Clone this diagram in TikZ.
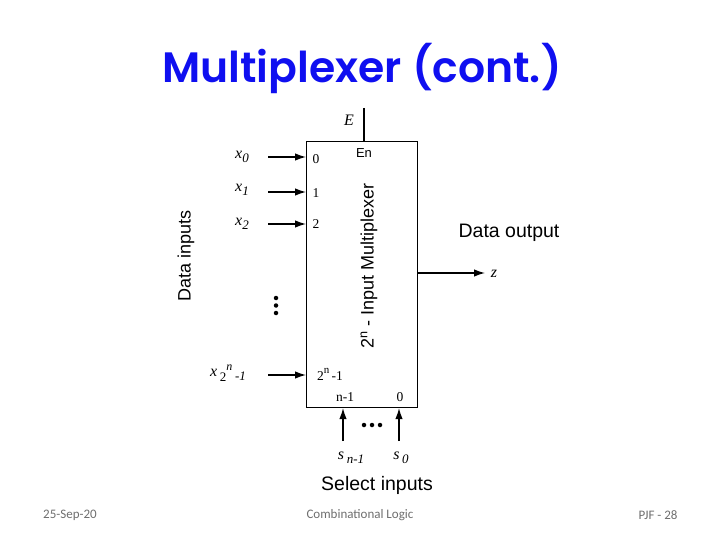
\documentclass[tikz,border=0pt]{standalone}
\usepackage{fontspec}
\setmainfont{Liberation Serif}
\setsansfont{Liberation Sans}
\newfontfamily\titlefont{Poppins SemiBold}
\newfontfamily\footfont{Carlito}
\usetikzlibrary{arrows.meta}
\definecolor{titleblue}{RGB}{15,15,240}
\definecolor{footgray}{RGB}{110,110,110}
\tikzset{
  wire/.style={line width=1.1pt},
  inarrow/.style={line width=1.3pt,-{Latex[length=11pt,width=7.5pt]}},
  lbl/.style={font=\fontsize{16}{16}\selectfont\itshape, inner sep=0pt},
  pin/.style={font=\fontsize{13.5}{13.5}\selectfont, inner sep=0pt},
  big/.style={font=\sffamily\fontsize{18}{18}\selectfont, inner sep=0pt},
  foot/.style={font=\footfont\fontsize{13}{13}\selectfont, text=footgray, inner sep=0pt},
  dot/.style={circle, fill, inner sep=0pt, minimum size=4.5pt}
}
\begin{document}
\begin{tikzpicture}[x=1pt,y=-1pt]
\useasboundingbox (0,0) rectangle (720,540);
% title
\node[font=\titlefont\fontsize{42.5}{42.5}\selectfont, text=titleblue, inner sep=0pt] (title) at (362,68) {Multiplexer (cont.)};
% box
\node[draw, wire, minimum width=111pt, minimum height=266pt, inner sep=0pt, anchor=north west] (mux) at (306,141) {};
% enable
\coordinate (etop) at (364,108);
\draw[wire] (etop) -- (364,141);
\node[lbl] (E) at (349,120) {E};
\node[font=\sffamily\fontsize{13}{13}\selectfont, inner sep=0pt] (En) at (364,153) {En};
% inputs
\coordinate (a0) at (268,157);
\coordinate (a1) at (268,192);
\coordinate (a2) at (268,224);
\coordinate (an) at (268,375);
\draw[inarrow] (a0) -- (a0 -| mux.west);
\draw[inarrow] (a1) -- (a1 -| mux.west);
\draw[inarrow] (a2) -- (a2 -| mux.west);
\draw[inarrow] (an) -- (an -| mux.west);
\node[lbl] (x0) at (242,157) {x\raisebox{-4pt}{\fontsize{13}{13}\selectfont\itshape 0}};
\node[lbl] (x1) at (242,190) {x\raisebox{-4pt}{\fontsize{13}{13}\selectfont\itshape 1}};
\node[lbl] (x2) at (242,224) {x\raisebox{-4pt}{\fontsize{13}{13}\selectfont\itshape 2}};
\node[lbl] (xn) at (228,373) {x\,\raisebox{-5pt}{\fontsize{13}{13}\selectfont\upshape 2}\raisebox{6pt}{\fontsize{12}{12}\selectfont n}\,\raisebox{-4pt}{\fontsize{13}{13}\selectfont -1}};
\node[pin] (p0) at (316,159) {0};
\node[pin] (p1) at (316,193) {1};
\node[pin] (p2) at (316,224) {2};
\node[pin] (pn) at (330,374) {2\raisebox{7pt}{\fontsize{11}{11}\selectfont n}\,-1};
\node[dot] (d1) at (276,298) {};
\node[dot] (d2) at (276,305.5) {};
\node[dot] (d3) at (276,313) {};
\node[big, rotate=90] (din) at (186,256) {Data inputs};
\node[big, rotate=90] (mtext) at (369,266) {2\textsuperscript{n} - Input Multiplexer};
% output
\coordinate (oend) at (485,273);
\draw[inarrow] (mux.east |- oend) -- (oend);
\node[lbl] (z) at (494,274) {z};
\node[big, font=\sffamily\fontsize{19.5}{19.5}\selectfont] (dout) at (509,233) {Data output};
% select
\node[pin] (sn1) at (345,397) {n-1};
\node[pin] (s0p) at (400,397) {0};
\coordinate (b1) at (343,441);
\coordinate (b0) at (399,441);
\draw[inarrow] (b1) -- (b1 |- mux.south);
\draw[inarrow] (b0) -- (b0 |- mux.south);
\node[dot] (h1) at (364,425) {};
\node[dot] (h2) at (372,425) {};
\node[dot] (h3) at (380,425) {};
\node[lbl] (sn) at (351,458) {s\,\raisebox{-4pt}{\fontsize{13}{13}\selectfont\itshape n-1}};
\node[lbl] (s0) at (401,458) {s\,\raisebox{-4pt}{\fontsize{13}{13}\selectfont\itshape 0}};
\node[big, font=\sffamily\fontsize{19.5}{19.5}\selectfont] (sel) at (377,485) {Select inputs};
% footer
\node[foot] (f1) at (70,515) {25-Sep-20};
\node[foot] (f2) at (360,515) {Combinational Logic};
\node[foot] (f3) at (658,515) {PJF - 28};
\end{tikzpicture}
\end{document}
